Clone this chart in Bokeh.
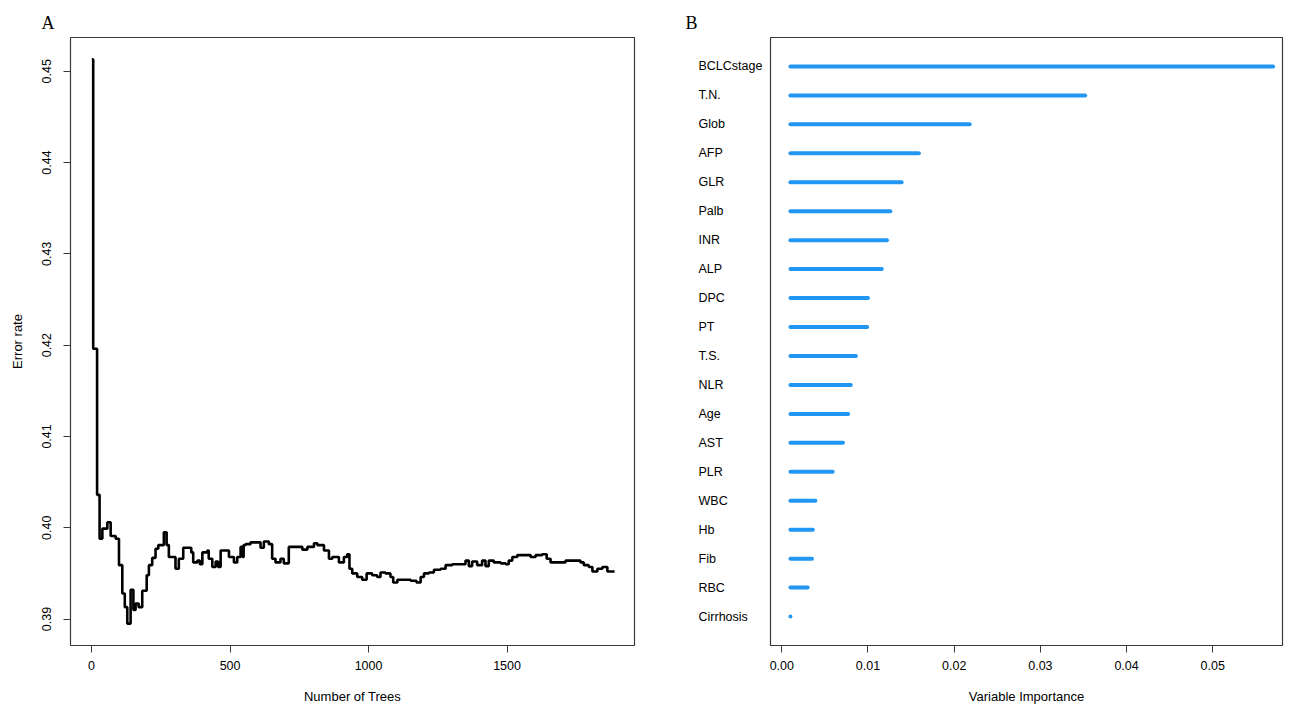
from bokeh.plotting import figure
from bokeh.layouts import row
from bokeh.models import (Range1d, FixedTicker, ColumnDataSource, NumeralTickFormatter, Title)
from bokeh.core.properties import value
from bokeh.embed import file_html
from bokeh.resources import INLINE

# ---------------- data ----------------
trees = [1, 6, 20, 29, 39, 57, 69, 87, 99, 111, 120, 129, 141, 151, 159, 170, 183, 199, 207,
         219, 231, 241, 261, 271, 279, 303, 315, 331, 360, 367, 382, 391, 400, 418, 423, 436,
         448, 457, 466, 496, 514, 526, 538, 545, 549, 556, 574, 610, 622, 640, 652, 664, 682,
         694, 712, 761, 779, 803, 815, 839, 857, 869, 893, 911, 923, 931, 941, 959, 977, 993,
         1013, 1031, 1043, 1061, 1079, 1089, 1104, 1152, 1173, 1188, 1200, 1218, 1236, 1260,
         1278, 1302, 1350, 1362, 1374, 1392, 1410, 1422, 1434, 1452, 1477, 1495, 1506, 1519,
         1537, 1585, 1603, 1627, 1643, 1657, 1711, 1765, 1777, 1795, 1808, 1826, 1844, 1862,
         1888]
error_rate = [0.4513, 0.4196, 0.4036, 0.3988, 0.3999, 0.4006, 0.3991, 0.3988, 0.3959, 0.3928,
              0.3913, 0.3895, 0.3932, 0.3910, 0.3917, 0.3913, 0.3931, 0.3948, 0.3959, 0.3967,
              0.3977, 0.3981, 0.3995, 0.3981, 0.3968, 0.3955, 0.3966, 0.3978, 0.3973, 0.3962,
              0.3964, 0.3960, 0.3973, 0.3975, 0.3966, 0.3957, 0.3963, 0.3957, 0.3975, 0.3968,
              0.3962, 0.3968, 0.3979, 0.3968, 0.3981, 0.3982, 0.3984, 0.3978, 0.3985, 0.3982,
              0.3966, 0.3962, 0.3966, 0.3961, 0.3979, 0.3976, 0.3979, 0.3983, 0.3981, 0.3975,
              0.3966, 0.3968, 0.3962, 0.3968, 0.3971, 0.3955, 0.3950, 0.3946, 0.3943, 0.3950,
              0.3948, 0.3946, 0.3951, 0.3950, 0.3946, 0.3940, 0.3943, 0.3942, 0.3940, 0.3946,
              0.3950, 0.3951, 0.3954, 0.3955, 0.3959, 0.3960, 0.3964, 0.3958, 0.3963, 0.3959,
              0.3964, 0.3958, 0.3964, 0.3962, 0.3961, 0.3960, 0.3964, 0.3968, 0.3970, 0.3968,
              0.3970, 0.3971, 0.3966, 0.3962, 0.3964, 0.3962, 0.3959, 0.3957, 0.3952, 0.3955,
              0.3957, 0.3952, 0.3952]

x_ticks_a = [0, 500, 1000, 1500]
y_ticks_a = [0.39, 0.40, 0.41, 0.42, 0.43, 0.44, 0.45]

variables = ["BCLCstage", "T.N.", "Glob", "AFP", "GLR", "Palb", "INR", "ALP", "DPC", "PT",
             "T.S.", "NLR", "Age", "AST", "PLR", "WBC", "Hb", "Fib", "RBC", "Cirrhosis"]
importance = [0.0570, 0.0352, 0.0218, 0.0159, 0.0139, 0.0126, 0.0122, 0.0116, 0.0100, 0.0099,
              0.0086, 0.0080, 0.0077, 0.0071, 0.0059, 0.0039, 0.0036, 0.0035, 0.0030, 0.0010]
x_ticks_b = [0.00, 0.01, 0.02, 0.03, 0.04, 0.05]

FONT = "Liberation Sans"
SERIF = "Liberation Serif"
FRAME_COLOR = "#3a3a3a"
BAR_COLOR = "#2196F3"

TOP = 37
FRAME_H = 608
BOTTOM = 58


def style_axis(ax):
    ax.axis_line_color = None
    ax.major_tick_line_color = FRAME_COLOR
    ax.major_tick_in = 0
    ax.major_tick_out = 7
    ax.minor_tick_line_color = None
    ax.major_label_text_font = FONT
    ax.major_label_text_font_size = "12.5px"
    ax.major_label_text_color = "black"
    ax.axis_label_text_font = FONT
    ax.axis_label_text_font_size = "13px"
    ax.axis_label_text_font_style = "normal"
    ax.axis_label_text_color = "black"


def panel_title(text, offset):
    return Title(text=text, align="left", offset=offset, standoff=10,
                 text_font=SERIF, text_font_size="18px", text_font_style="normal",
                 text_color="black")


# ---------------- panel A ----------------
pa = figure(frame_width=564, frame_height=FRAME_H, output_backend="svg", toolbar_location=None,
            x_range=Range1d(-76, 1960), y_range=Range1d(0.3871, 0.4537),
            min_border_left=70, min_border_right=20, min_border_top=TOP,
            min_border_bottom=BOTTOM, title=None)
pa.add_layout(panel_title("A", -29), "above")
pa.step(x=trees, y=error_rate, mode="after", line_width=2.6, line_color="black")
pa.grid.visible = False
pa.outline_line_color = FRAME_COLOR
pa.outline_line_width = 1.2
style_axis(pa.xaxis[0])
style_axis(pa.yaxis[0])
pa.xaxis.ticker = FixedTicker(ticks=x_ticks_a)
pa.yaxis.ticker = FixedTicker(ticks=y_ticks_a)
pa.yaxis.formatter = NumeralTickFormatter(format="0.00")
pa.yaxis.major_label_orientation = "vertical"
pa.xaxis.axis_label = "Number of Trees"
pa.yaxis.axis_label = "Error rate"
pa.xaxis.major_label_standoff = 8
pa.xaxis.axis_label_standoff = 16
pa.yaxis.major_label_standoff = 12
pa.yaxis.axis_label_standoff = 15

# ---------------- panel B ----------------
n = len(variables)
ypos = [n - i for i in range(n)]
base = min(importance)
src = ColumnDataSource(dict(var=variables, imp=importance, y=ypos, x0=[base] * n,
                            xl=[0] * n))
yr_b = Range1d(0, n + 1)

# label column (variable names, left aligned)
pl = figure(frame_width=112, frame_height=FRAME_H, output_backend="svg", toolbar_location=None,
            x_range=Range1d(0, 112), y_range=yr_b, x_axis_location=None,
            y_axis_location=None, min_border_left=0, min_border_right=0,
            min_border_top=TOP, min_border_bottom=BOTTOM, title=None)
pl.add_layout(panel_title("B", 31), "above")
pl.outline_line_color = None
pl.grid.visible = False
pl.text(x="xl", y="y", text="var", source=src, x_offset=44,
        text_font=value(FONT), text_font_size="12.5px", text_color="black",
        text_align="left", text_baseline="middle")

pb = figure(frame_width=512, frame_height=FRAME_H, output_backend="svg", toolbar_location=None,
            x_range=Range1d(-0.00131, 0.05809), y_range=yr_b,
            y_axis_location=None, min_border_left=4, min_border_right=3,
            min_border_top=TOP, min_border_bottom=BOTTOM, title=None)
pb.segment(x0="x0", y0="y", x1="imp", y1="y", source=src, line_color=BAR_COLOR,
           line_width=4, line_cap="round")
pb.grid.visible = False
pb.outline_line_color = FRAME_COLOR
pb.outline_line_width = 1.2
style_axis(pb.xaxis[0])
pb.xaxis.ticker = FixedTicker(ticks=x_ticks_b)
pb.xaxis.formatter = NumeralTickFormatter(format="0.00")
pb.xaxis.axis_label = "Variable Importance"
pb.xaxis.major_label_standoff = 8
pb.xaxis.axis_label_standoff = 16

layout = row(pa, pl, pb)
open("out.html", "w").write(file_html(layout, INLINE))
